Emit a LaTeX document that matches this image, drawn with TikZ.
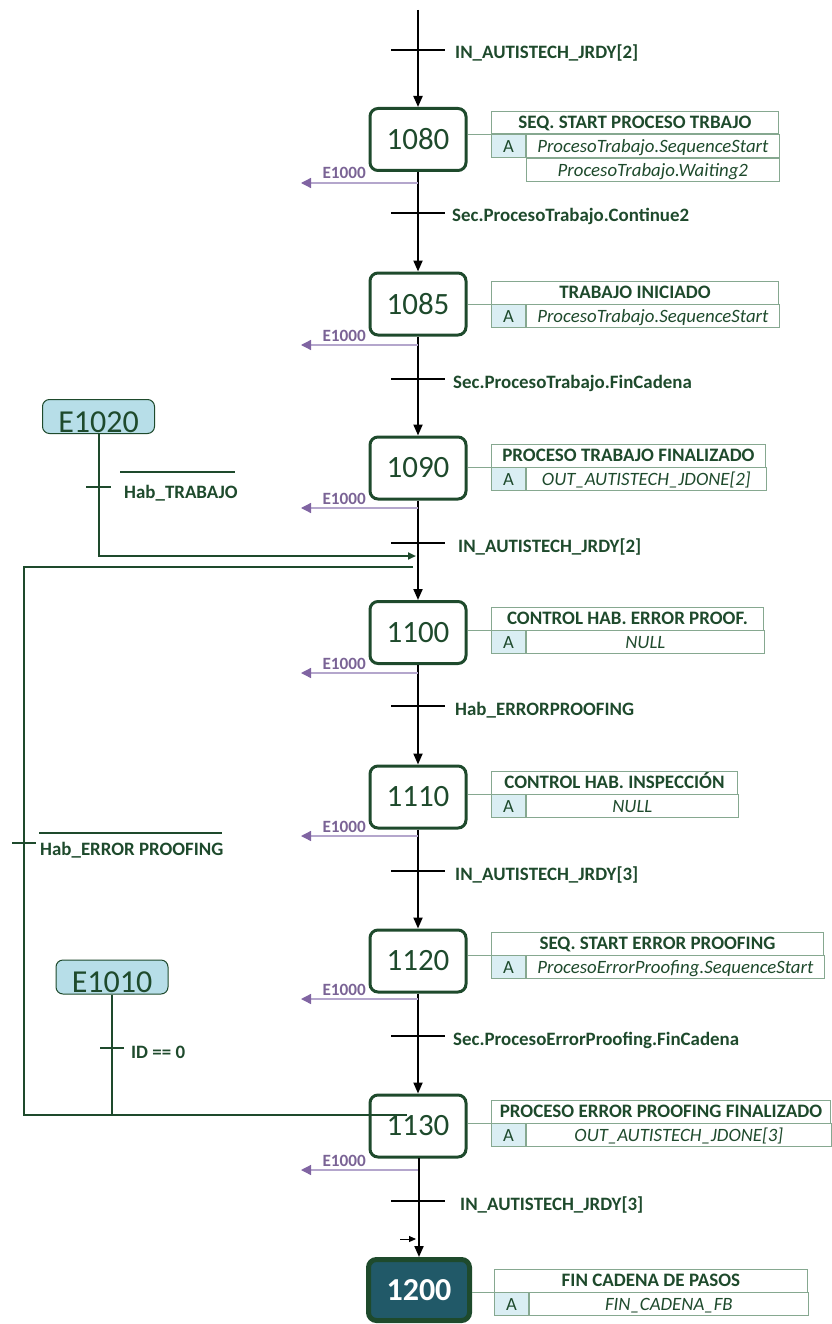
\documentclass[tikz,border=0pt]{standalone}
\usepackage{fontspec}
\setmainfont{Carlito}
\usetikzlibrary{arrows.meta}

\definecolor{dgreen}{HTML}{1E4A2C}
\definecolor{boxline}{HTML}{86A890}
\definecolor{acell}{HTML}{DAEEF3}
\definecolor{evfill}{HTML}{B7DEE8}
\definecolor{endfill}{HTML}{215968}
\definecolor{errtext}{HTML}{7A6395}
\definecolor{errline}{HTML}{B4A6CC}
\definecolor{errtip}{HTML}{8064A2}

\tikzset{
  stepbox/.style={draw=dgreen, line width=3pt, rounded corners=8pt,
    minimum width=96pt, minimum height=62pt, inner sep=0pt, text=dgreen,
    font=\fontsize{31}{31}\selectfont},
  endstep/.style={draw=dgreen, fill=endfill, line width=5pt, rounded corners=8pt,
    minimum width=101pt, minimum height=61pt, inner sep=0pt, text=white,
    font=\bfseries\fontsize{32}{32}\selectfont},
  flow/.style={line width=2pt, -{Triangle[length=11pt,width=9pt]}},
  tbar/.style={line width=2pt},
  tlabel/.style={inner sep=0pt, text=dgreen, font=\bfseries\fontsize{18.9}{19}\selectfont},
  errarrow/.style={draw=errline, line width=1.3pt,
    -{Triangle[length=10pt,width=10pt,color=errtip]}},
  errlabel/.style={inner sep=0pt, text=errtext, font=\bfseries\fontsize{17.2}{17}\selectfont},
  cellbase/.style={draw=boxline, line width=0.9pt, inner sep=0pt,
    text height=11.8pt, text depth=0pt, text=dgreen},
  hdr/.style={cellbase, minimum height=22.5pt, font=\bfseries\fontsize{19}{19}\selectfont},
  acellbox/.style={cellbase, fill=acell, minimum height=23pt, minimum width=34pt,
    font=\fontsize{18.6}{19}\selectfont},
  actrow/.style={cellbase, minimum height=23pt, font=\itshape\fontsize{18.8}{19}\selectfont},
  conn/.style={draw=boxline, line width=1pt},
  jump/.style={draw=dgreen, line width=2pt},
  event/.style={draw=dgreen, fill=evfill, line width=1pt, rounded corners=7pt,
    minimum width=112pt, minimum height=34pt, inner sep=0pt, text=dgreen,
    font=\fontsize{32}{32}\selectfont, text height=31pt, text depth=0pt},
}

% action table: id, left x, right x, top y, header, action
\newcommand\actbox[6]{%
  \node[hdr, anchor=north west, minimum width=#3-#2] (#1h) at (#2,#4) {#5};
  \node[acellbox, anchor=north west] (#1a) at (#1h.south west) {A};
  \node[actrow, anchor=north west, minimum width=#3-#2-34] (#1r) at (#1a.north east) {#6};
}

\begin{document}
\begin{tikzpicture}[x=1pt, y=-1pt]
\useasboundingbox (0,0) rectangle (831,1324);

% steps
\node[stepbox] (s1080) at (418,139.5) {1080};
\node[stepbox] (s1085) at (418,304) {1085};
\node[stepbox] (s1090) at (418,468) {1090};
\node[stepbox] (s1100) at (418,632.5) {1100};
\node[stepbox] (s1110) at (418,797) {1110};
\node[stepbox] (s1120) at (418,961) {1120};
\node[stepbox] (s1130) at (418,1126) {1130};
\node[endstep] (s1200) at (419,1290) {1200};

% main flow
\coordinate (start) at (418,10);
\draw[flow] (start) -- (s1080.north);
\draw[flow] (s1080.south) -- (s1085.north);
\draw[flow] (s1085.south) -- (s1090.north);
\draw[flow] (s1090.south) -- (s1100.north);
\draw[flow] (s1100.south) -- (s1110.north);
\draw[flow] (s1110.south) -- (s1120.north);
\draw[flow] (s1120.south) -- (s1130.north);
\draw[flow] (s1130.south) -- (s1200.north |- s1130.south) -- (s1200.north);

% transitions
\foreach \t/\y/\lx/\txt in {
  t1/50/455/{IN\_AUTISTECH\_JRDY[2]},
  t2/213/452/{Sec.ProcesoTrabajo.Continue2},
  t3/379/453/{Sec.ProcesoTrabajo.FinCadena},
  t4/543/458/{IN\_AUTISTECH\_JRDY[2]},
  t5/706/455/{Hab\_ERRORPROOFING},
  t6/871/455/{IN\_AUTISTECH\_JRDY[3]},
  t7/1036/453/{Sec.ProcesoErrorProofing.FinCadena},
  t8/1201/460/{IN\_AUTISTECH\_JRDY[3]}} {
  \coordinate (\t) at (418,\y);
  \draw[tbar] ([xshift=-27pt]\t) -- ([xshift=27pt]\t);
  \node[tlabel, anchor=base west] (\t l) at (\lx,\y+9) {\txt};
}

% error exits
\foreach \s/\y in {1080/183, 1085/345, 1090/508, 1100/673, 1110/836, 1120/999, 1130/1170} {
  \coordinate (e\s) at (301,\y);
  \draw[errarrow] (s\s.south |- e\s) -- (e\s);
  \node[errlabel, anchor=base east] (le\s) at (366,\y-4) {E1000};
}

% action tables
\actbox{a1080}{491}{778}{111}{SEQ. START PROCESO TRBAJO}{ProcesoTrabajo.SequenceStart}
\node[actrow, anchor=north west, minimum width=778-525] (a1080r2) at (a1080r.south west) {ProcesoTrabajo.Waiting2};
\actbox{a1085}{491}{778}{281}{TRABAJO INICIADO}{ProcesoTrabajo.SequenceStart}
\actbox{a1090}{491}{765}{444}{PROCESO TRABAJO FINALIZADO}{OUT\_AUTISTECH\_JDONE[2]}
\actbox{a1100}{491}{763}{607}{CONTROL HAB. ERROR PROOF.}{NULL}
\actbox{a1110}{491}{737}{771}{CONTROL HAB. INSPECCIÓN}{NULL}
\actbox{a1120}{491}{823}{932}{SEQ. START ERROR PROOFING}{ProcesoErrorProofing.SequenceStart}
\actbox{a1130}{491}{830}{1100}{PROCESO ERROR PROOFING FINALIZADO}{OUT\_AUTISTECH\_JDONE[3]}
\actbox{a1200}{494}{807}{1269}{FIN CADENA DE PASOS}{FIN\_CADENA\_FB}

\foreach \s in {1080,1085,1090,1100,1110,1120,1130,1200}
  \draw[conn] (s\s.east |- a\s h.south west) -- (a\s h.south west);

% event E1020 joining before 1100
\node[event] (ev1020) at (98.5,416.5) {E1020};
\coordinate (j1) at (416,556);
\draw[jump, -{Triangle[length=8pt,width=7pt]}] (ev1020.south) |- (j1);
\coordinate (tb1) at (98.5,487);
\draw[jump] ([xshift=-12.5pt]tb1) -- ([xshift=12.5pt]tb1);
\draw[jump, line width=1.6pt] (120,472) -- (235,472);
\node[tlabel, anchor=base west] (ltb1) at (124,498) {Hab\_TRABAJO};

% loop back from 1130
\coordinate (k1) at (413,567);
\coordinate (k2) at (407,1115);
\draw[jump] (k1) -- ++(-389,0) |- (k2);
\coordinate (tb2) at (24,843);
\draw[jump] ([xshift=-12pt]tb2) -- ([xshift=12pt]tb2);
\draw[jump, line width=1.6pt] (39,833) -- (222,833);
\node[tlabel, anchor=base west] (ltb2) at (40,855) {Hab\_ERROR PROOFING};

% event E1010 joining at 1130
\node[event] (ev1010) at (112,977) {E1010};
\coordinate (k3) at (112,1115);
\draw[jump] (ev1010.south) -- (k3);
\coordinate (tb3) at (112,1048);
\draw[jump] ([xshift=-12pt]tb3) -- ([xshift=12pt]tb3);
\node[tlabel, anchor=base west] (ltb3) at (131,1058) {ID == 0};

% marker arrow on the last link
\coordinate (m1) at (400,1239);
\coordinate (m2) at (416,1239);
\draw[line width=1pt, -{Triangle[length=7pt,width=6pt]}] (m1) -- (m2);
\end{tikzpicture}
\end{document}
